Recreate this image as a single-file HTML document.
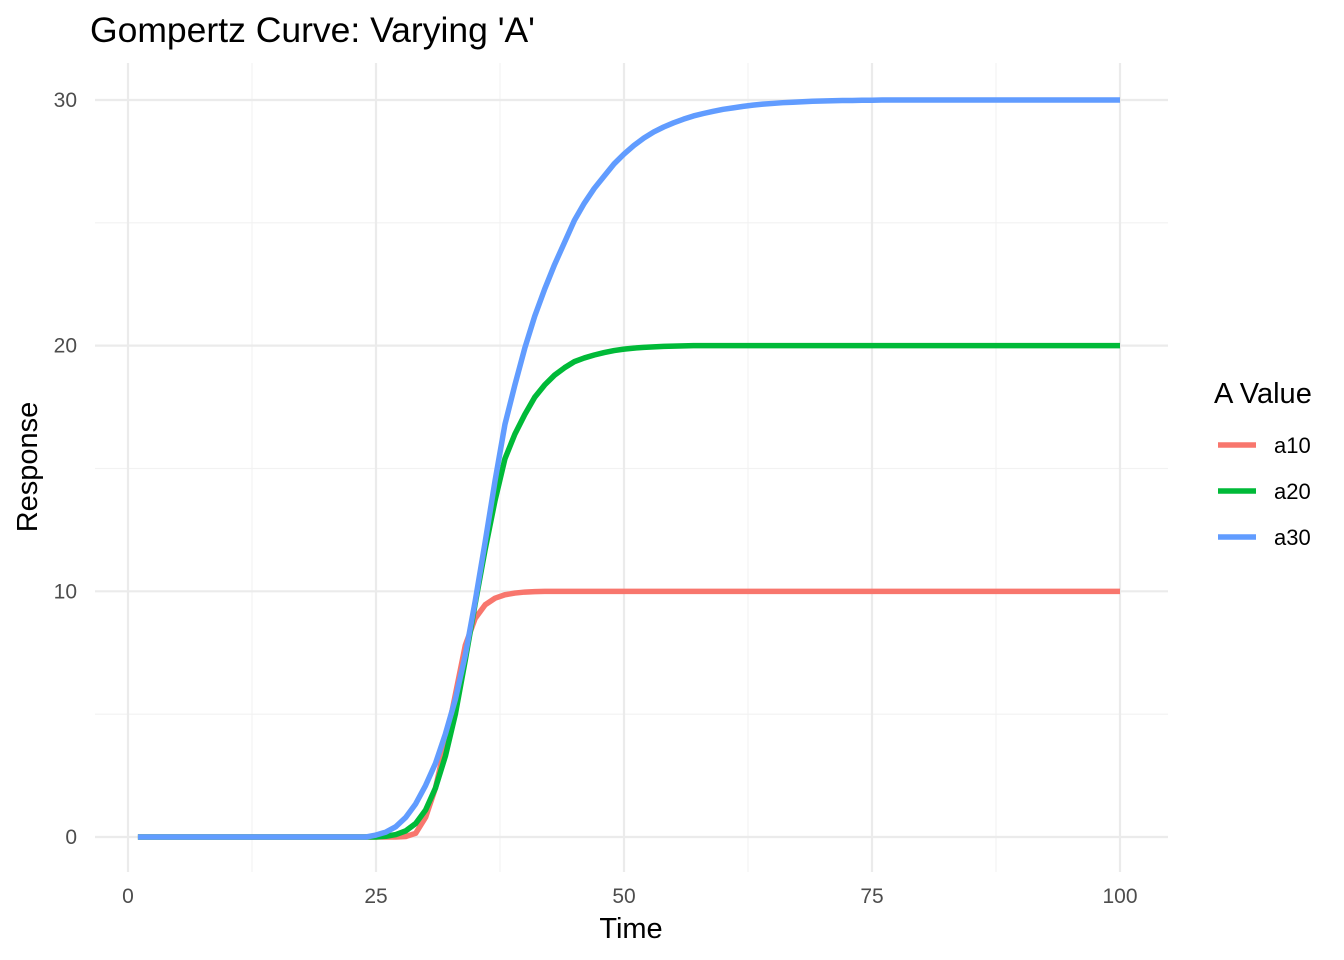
<!DOCTYPE html>
<html><head><meta charset="utf-8"><style>
body{margin:0;background:#fff;}
svg{display:block;font-family:"Liberation Sans",sans-serif;}
</style></head><body>
<svg id="chart" width="1344" height="960"></svg>
<script>
const seriesNames = ["a10","a20","a30"];
const seriesColors = ["#F8766D","#00BA38","#619CFF"];
const xTicks = [0,25,50,75,100];
const yTicks = [0,10,20,30];
const a10 = [0,0,0,0,0,0,0,0,0,0, 0,0,0,0,0,0,0,0,0,0, 0,0,0,0,0,0,0,0.02,0.15,0.8,
 2,3.8,5.8,7.8,8.9,9.45,9.72,9.86,9.93,9.97,
 9.99,10,10,10,10,10,10,10,10,10, 10,10,10,10,10,10,10,10,10,10, 10,10,10,10,10,10,10,10,10,10,
 10,10,10,10,10,10,10,10,10,10, 10,10,10,10,10,10,10,10,10,10, 10,10,10,10,10,10,10,10,10,10];
const a20 = [0,0,0,0,0,0,0,0,0,0, 0,0,0,0,0,0,0,0,0,0, 0,0,0,0,0,0.03,0.1,0.25,0.55,1.1,
 2,3.3,5,7.2,9.5,11.7,13.7,15.4,16.4,17.2,
 17.9,18.4,18.8,19.1,19.35,19.5,19.62,19.72,19.8,19.86,
 19.9,19.93,19.95,19.97,19.98,19.99,20,20,20,20, 20,20,20,20,20,20,20,20,20,20, 20,20,20,20,20,20,20,20,20,20,
 20,20,20,20,20,20,20,20,20,20, 20,20,20,20,20,20,20,20,20,20];
const a30 = [0,0,0,0,0,0,0,0,0,0, 0,0,0,0,0,0,0,0,0,0, 0,0,0,0,0.08,0.2,0.42,0.8,1.35,2.1,
 3,4.2,5.6,7.4,9.6,12,14.5,16.8,18.4,19.9,
 21.2,22.3,23.3,24.2,25.1,25.8,26.4,26.9,27.4,27.8,
 28.15,28.45,28.7,28.9,29.07,29.22,29.35,29.45,29.54,29.62,
 29.68,29.74,29.79,29.83,29.86,29.89,29.91,29.93,29.95,29.96,
 29.97,29.98,29.98,29.99,29.99,30,30,30,30,30, 30,30,30,30,30,30,30,30,30,30, 30,30,30,30,30,30,30,30,30,30];
const seriesData = [a10,a20,a30];

const NS="http://www.w3.org/2000/svg";
const svg=document.getElementById('chart');
function xs(v){return 128+v*9.92;}
function ys(v){return 837-v*24.567;}
function mk(tag,attrs,parent){const e=document.createElementNS(NS,tag);for(const k in attrs)e.setAttribute(k,attrs[k]);(parent||svg).appendChild(e);return e;}
const L=95,R=1168,T=63,B=872;
const grid=mk('g',{});


for(let i=0;i<xTicks.length-1;i++){const m=(xTicks[i]+xTicks[i+1])/2;mk('line',{x1:xs(m),x2:xs(m),y1:T,y2:B,stroke:'#f2f2f2','stroke-width':1.2},grid);}
for(let i=0;i<yTicks.length-1;i++){const m=(yTicks[i]+yTicks[i+1])/2;mk('line',{x1:L,x2:R,y1:ys(m),y2:ys(m),stroke:'#f2f2f2','stroke-width':1.2},grid);}
xTicks.forEach(v=>{mk('line',{x1:xs(v),x2:xs(v),y1:T,y2:B,stroke:'#ebebeb','stroke-width':2.2},grid);
 const t=mk('text',{x:xs(v),y:903,'text-anchor':'middle','font-size':21,fill:'#4d4d4d'});t.textContent=v;
 
 });
yTicks.forEach(v=>{mk('line',{x1:L,x2:R,y1:ys(v),y2:ys(v),stroke:'#ebebeb','stroke-width':2.2},grid);
 const t=mk('text',{x:77,y:ys(v)+7,'text-anchor':'end','font-size':21,fill:'#4d4d4d'});t.textContent=v;
 
 });
seriesData.forEach((d,si)=>{
 const pts=d.map((v,i)=>xs(i+1).toFixed(2)+','+ys(v).toFixed(2)).join(' ');
 const p=mk('polyline',{points:pts,fill:'none',stroke:seriesColors[si],'stroke-width':5.5,'stroke-linejoin':'round'});
 
 
});
function txt(s,a,name){const t=mk('text',a);t.textContent=s;return t;}
txt("Gompertz Curve: Varying 'A'",{x:90,y:42,'font-size':35.5,fill:'#000'},'chart-title');
txt("Time",{x:631,y:938,'text-anchor':'middle','font-size':29,fill:'#000'},'x-axis-title');
txt("Response",{x:37,y:467,'text-anchor':'middle','font-size':29,fill:'#000',transform:'rotate(-90 37 467)'},'y-axis-title');
txt("A Value",{x:1214,y:403,'font-size':29,fill:'#000'},'legend-title');
seriesNames.forEach((n,i)=>{const y=445+i*46;
 const g=mk('g',{});
 
 
 mk('line',{x1:1218,x2:1256,y1:y,y2:y,stroke:seriesColors[i],'stroke-width':5.5},g);
 const t=mk('text',{x:1274,y:y+8,'font-size':22,fill:'#000'},g);t.textContent=n;});
</script>
</body></html>
